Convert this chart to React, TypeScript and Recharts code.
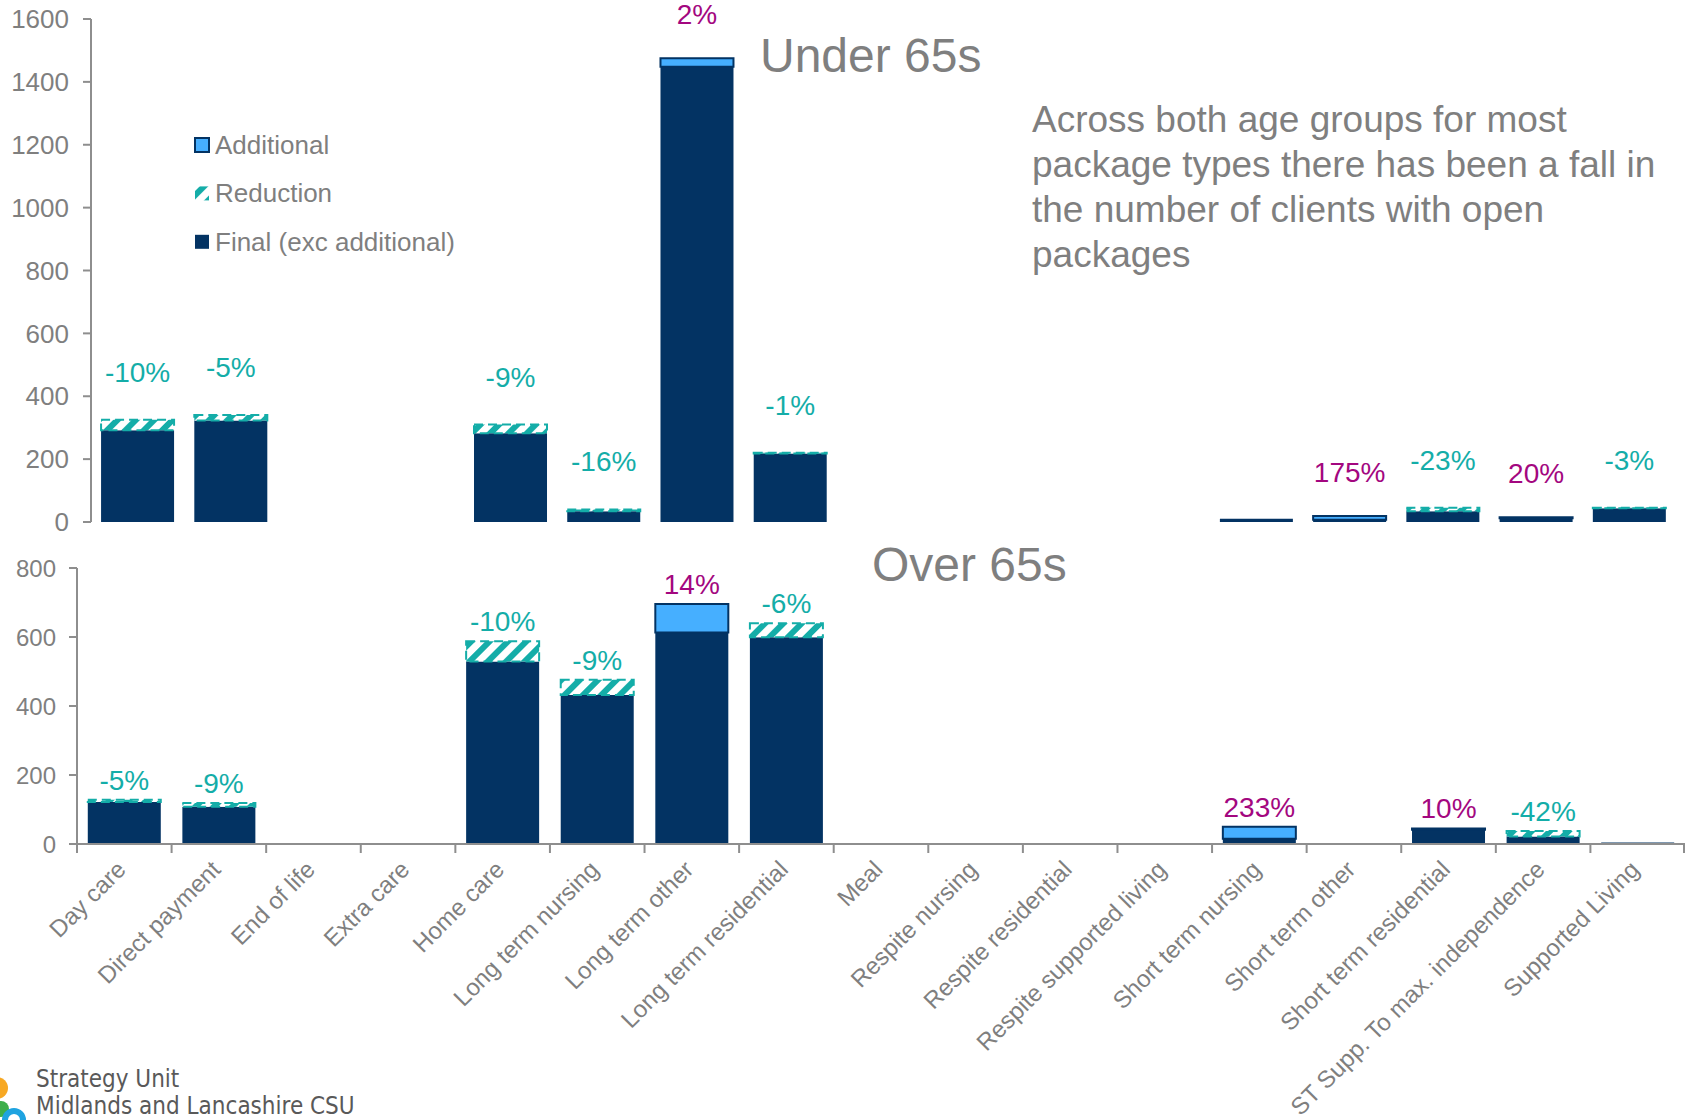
import React from 'react';
import { BarChart, Bar, XAxis, YAxis, LabelList } from 'recharts';

// ---------- data ----------
const categories = [
  'Day care', 'Direct payment', 'End of life', 'Extra care', 'Home care',
  'Long term nursing', 'Long term other', 'Long term residential', 'Meal',
  'Respite nursing', 'Respite residential', 'Respite supported living',
  'Short term nursing', 'Short term other', 'Short term residential',
  'ST Supp. To max. independence', 'Supported Living',
];

const under65Final = [292, 323, 0, 0, 282, 34, 1448, 218, 0, 0, 0, 0, 10, 7, 34, 12, 44];
const under65Additional = [0, 0, 0, 0, 0, 0, 27, 0, 0, 0, 0, 0, 0, 12, 0, 3, 0];
const under65Reduction = [33, 17, 0, 0, 28, 6, 0, 2, 0, 0, 0, 0, 0, 0, 11, 0, 1.5];
const under65Labels = ['-10%', '-5%', '', '', '-9%', '-16%', '2%', '-1%', '', '', '', '', '', '175%', '-23%', '20%', '-3%'];

const over65Final = [122, 108, 0, 0, 529, 432, 613, 599, 0, 0, 0, 0, 15, 0, 41, 22, 4];
const over65Additional = [0, 0, 0, 0, 0, 0, 83, 0, 0, 0, 0, 0, 35, 0, 4, 0, 0];
const over65Reduction = [6, 11, 0, 0, 59, 44, 0, 41, 0, 0, 0, 0, 0, 0, 0, 16, 0];
const over65Labels = ['-5%', '-9%', '', '', '-10%', '-9%', '14%', '-6%', '', '', '', '', '233%', '', '10%', '-42%', ''];

const under65Ticks = [0, 200, 400, 600, 800, 1000, 1200, 1400, 1600];
const over65Ticks = [0, 200, 400, 600, 800];

const legendItems = ['Additional', 'Reduction', 'Final (exc additional)'];
const noteLines = [
  'Across both age groups for most',
  'package types there has been a fall in',
  'the number of clients with open',
  'packages',
];
const footerLines = ['Strategy Unit', 'Midlands and Lancashire CSU'];

const buildRows = (fin: number[], add: number[], red: number[], labels: string[]) =>
  categories.map((name, i) => ({
    name,
    final: fin[i],
    additional: add[i],
    reduction: red[i],
    label: labels[i],
  }));

const under65Rows = buildRows(under65Final, under65Additional, under65Reduction, under65Labels);
const over65Rows = buildRows(over65Final, over65Additional, over65Reduction, over65Labels);

// ---------- styles ----------
const NAVY = '#033363';
const LIGHT = '#46AFFF';
const TEAL = '#14ADA8';
const MAGENTA = '#A3077F';
const GRAY = '#7F7F7F';
const AXIS = '#8E8E8E';
const FONT = '"Liberation Sans", Arial, sans-serif';

const hatch = (id: string) => (
  <pattern id={id} patternUnits="userSpaceOnUse" width={13} height={13} patternTransform="rotate(45)">
    <rect width={13} height={13} fill="#ffffff" />
    <rect width={6} height={13} fill={TEAL} />
  </pattern>
);

// wantNegative: which labels this list draws (teal decreases on the reduction
// segment, magenta increases on the additional segment)
const makeLabel = (lift: number, wantNegative: boolean) => (props: any) => {
  const vb = props.viewBox && props.viewBox.x != null ? props.viewBox : props;
  const value = props.value;
  if (!value) return null;
  const neg = String(value).startsWith('-');
  if (neg !== wantNegative) return null;
  const x = Number(vb.x) + Number(vb.width) / 2;
  const y = Number(vb.y);
  return (
    <text x={x} y={y - lift} textAnchor="middle" fill={neg ? TEAL : MAGENTA} fontSize={28} fontFamily={FONT}>
      {value}
    </text>
  );
};

const BOTTOM_LEFT = 77;
const HALF_BAND = (1685 - BOTTOM_LEFT) / categories.length / 2;

const CategoryTick = (props: any) => {
  const { x, y, payload, index } = props;
  const ax = x + 3;
  const ay = y + 27;
  return (
    <g>
      <line x1={x - HALF_BAND} x2={x - HALF_BAND} y1={y} y2={y + 9} stroke={AXIS} strokeWidth={2} />
      {index === categories.length - 1 && (
        <line x1={x + HALF_BAND - 1} x2={x + HALF_BAND - 1} y1={y} y2={y + 9} stroke={AXIS} strokeWidth={2} />
      )}
      <text
        x={ax}
        y={ay}
        textAnchor="end"
        transform={`rotate(-45 ${ax} ${ay})`}
        fill={GRAY}
        fontSize={24}
        fontFamily={FONT}
      >
        {payload.value}
      </text>
    </g>
  );
};

export default function App() {
  return (
    <div
      style={{
        position: 'absolute',
        left: 0,
        top: 0,
        width: 1685,
        height: 1120,
        background: '#ffffff',
        overflow: 'hidden',
        fontFamily: FONT,
      }}
    >
      {/* Under 65s */}
      <div style={{ position: 'absolute', left: 0, top: 0 }}>
        <BarChart
          width={1685}
          height={540}
          data={under65Rows}
          margin={{ top: 19, right: 9, bottom: 18, left: 0 }}
          barCategoryGap="10.8%"
        >
          <defs>{hatch('hatchU')}</defs>
          <XAxis dataKey="name" hide />
          <YAxis
            width={91}
            domain={[0, 1600]}
            ticks={under65Ticks}
            interval={0}
            axisLine={{ stroke: AXIS, strokeWidth: 2 }}
            tickLine={{ stroke: AXIS, strokeWidth: 2 }}
            tickSize={8}
            tickMargin={14}
            tick={{ fill: GRAY, fontSize: 26, fontFamily: FONT }}
          />
          <Bar dataKey="final" stackId="s" fill={NAVY} isAnimationActive={false} />
          <Bar dataKey="additional" stackId="s" fill={LIGHT} stroke={NAVY} strokeWidth={2} isAnimationActive={false}>
            <LabelList dataKey="label" content={makeLabel(34, false)} />
          </Bar>
          <Bar
            dataKey="reduction"
            stackId="s"
            fill="url(#hatchU)"
            stroke={TEAL}
            strokeWidth={2}
            strokeDasharray="9 5"
            isAnimationActive={false}
          >
            <LabelList dataKey="label" content={makeLabel(38, true)} />
          </Bar>
        </BarChart>
      </div>

      {/* Over 65s */}
      <div style={{ position: 'absolute', left: 0, top: 520 }}>
        <BarChart
          width={1685}
          height={600}
          data={over65Rows}
          margin={{ top: 48, right: 0, bottom: 0, left: 0 }}
          barCategoryGap="11.4%"
        >
          <defs>{hatch('hatchO')}</defs>
          <XAxis
            dataKey="name"
            height={276}
            interval={0}
            axisLine={{ stroke: AXIS, strokeWidth: 2 }}
            tickLine={false}
            tickSize={0}
            tickMargin={0}
            tick={<CategoryTick />}
          />
          <YAxis
            width={BOTTOM_LEFT}
            domain={[0, 800]}
            ticks={over65Ticks}
            interval={0}
            axisLine={{ stroke: AXIS, strokeWidth: 2 }}
            tickLine={{ stroke: AXIS, strokeWidth: 2 }}
            tickSize={8}
            tickMargin={13}
            tick={{ fill: GRAY, fontSize: 24, fontFamily: FONT }}
          />
          <Bar dataKey="final" stackId="s" fill={NAVY} isAnimationActive={false} />
          <Bar dataKey="additional" stackId="s" fill={LIGHT} stroke={NAVY} strokeWidth={2} isAnimationActive={false}>
            <LabelList dataKey="label" content={makeLabel(10, false)} />
          </Bar>
          <Bar
            dataKey="reduction"
            stackId="s"
            fill="url(#hatchO)"
            stroke={TEAL}
            strokeWidth={2}
            strokeDasharray="9 5"
            isAnimationActive={false}
          >
            <LabelList dataKey="label" content={makeLabel(10, true)} />
          </Bar>
        </BarChart>
      </div>

      {/* Overlay texts, legend, footer */}
      <svg
        width={1685}
        height={1120}
        style={{ position: 'absolute', left: 0, top: 0, pointerEvents: 'none' }}
      >
        <defs>{hatch('hatchL')}</defs>
        <text x={760} y={72} fill={GRAY} fontSize={48} fontFamily={FONT}>Under 65s</text>
        <text x={872} y={581} fill={GRAY} fontSize={48} fontFamily={FONT}>Over 65s</text>
        {noteLines.map((line, i) => (
          <text key={line} x={1032} y={132 + i * 45} fill={GRAY} fontSize={37} fontFamily={FONT}>
            {line}
          </text>
        ))}
        {legendItems.map((item, i) => {
          const cy = 145 + i * 48.4;
          const fill = i === 0 ? LIGHT : i === 1 ? 'url(#hatchL)' : NAVY;
          return (
            <g key={item}>
              <rect
                x={195}
                y={cy - 7}
                width={14}
                height={14}
                fill={fill}
                stroke={i === 0 ? NAVY : 'none'}
                strokeWidth={i === 0 ? 2 : 0}
              />
              <text x={215} y={cy + 9} fill={GRAY} fontSize={26} fontFamily={FONT}>{item}</text>
            </g>
          );
        })}
        <circle cx={-3} cy={1088} r={11} fill="#F7A823" />
        <circle cx={1} cy={1109} r={8} fill="#3DAE4B" />
        <circle cx={14} cy={1120} r={9} fill="none" stroke="#1FA3E0" strokeWidth={6} />
        {footerLines.map((line, i) => (
          <text
            key={line}
            x={36}
            y={1087 + i * 27}
            fill="#595959"
            fontSize={24}
            fontFamily='"Liberation Sans Narrow", "DejaVu Sans Condensed", Arial, sans-serif'
          >
            {line}
          </text>
        ))}
      </svg>
    </div>
  );
}
